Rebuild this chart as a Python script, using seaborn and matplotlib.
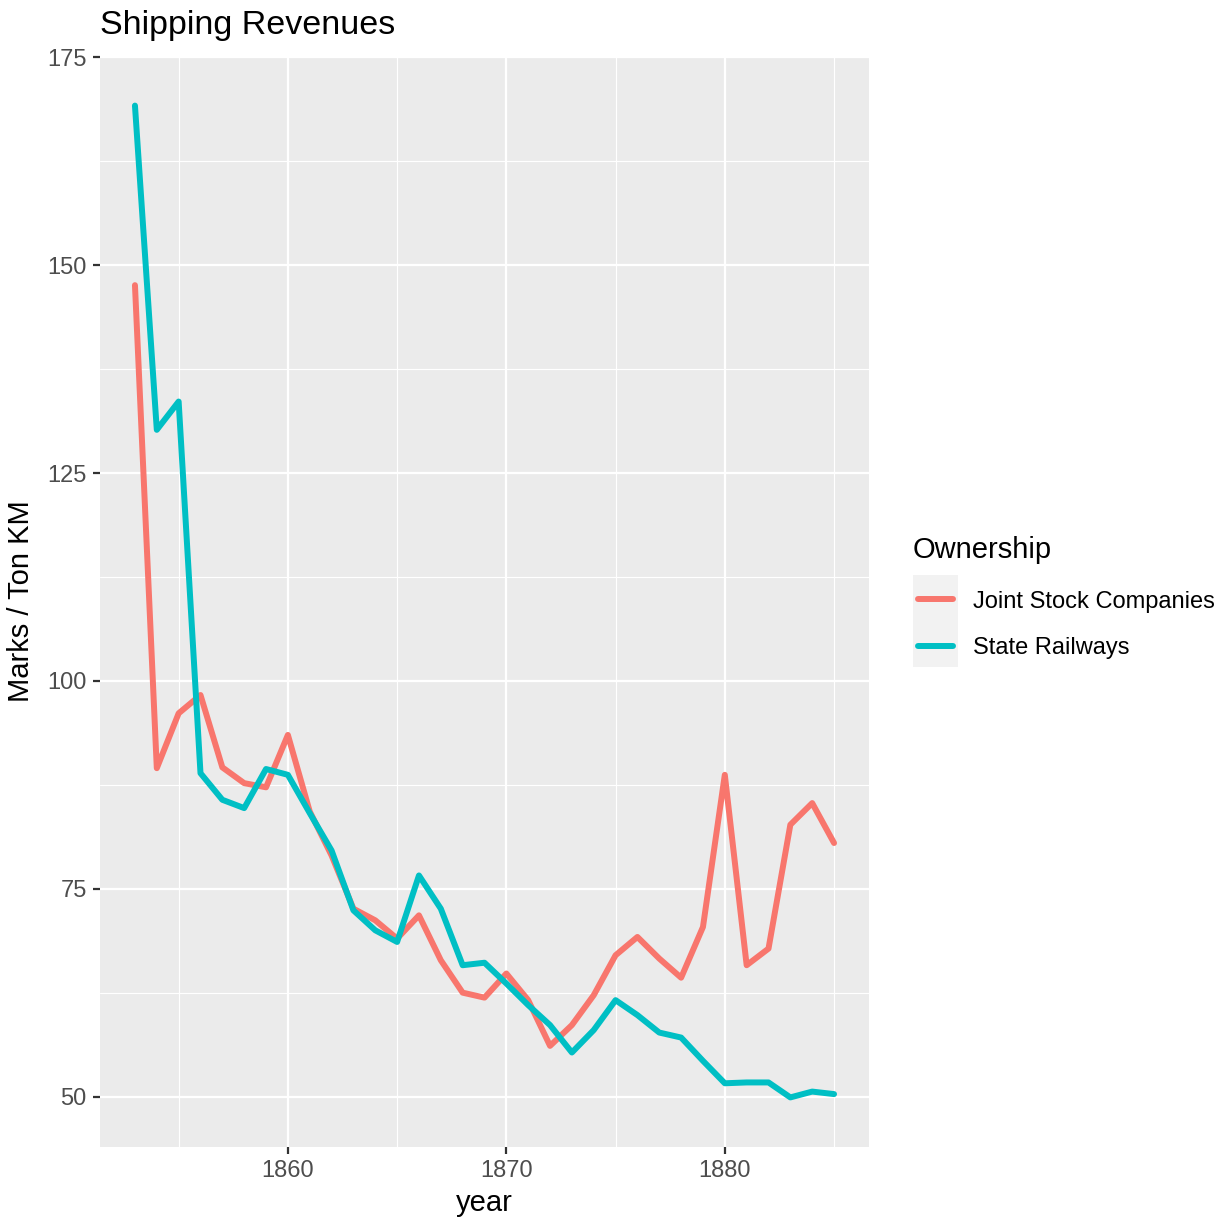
import matplotlib
matplotlib.use("Agg")
import matplotlib.pyplot as plt
import numpy as np
import pandas as pd
import seaborn as sns
from matplotlib.patches import Rectangle
from matplotlib.ticker import MultipleLocator

years = list(range(1853, 1886))

joint_stock = [147.6, 89.5, 96.1, 98.3, 89.6, 87.7, 87.2, 93.5, 84.3, 79.0,
               72.6, 71.2, 69.0, 71.8, 66.4, 62.5, 61.9, 64.8, 61.6, 56.1,
               58.6, 62.2, 67.0, 69.2, 66.6, 64.3, 70.4, 88.7, 65.8, 67.8,
               82.7, 85.3, 80.5]

state_railways = [169.2, 130.2, 133.6, 88.9, 85.7, 84.7, 89.4, 88.7, 84.1, 79.6,
                  72.4, 70.0, 68.6, 76.6, 72.6, 65.8, 66.1, 63.6, 61.0, 58.6,
                  55.3, 58.0, 61.6, 59.8, 57.7, 57.1, 54.3, 51.6, 51.7, 51.7,
                  49.9, 50.6, 50.3]

groups = ["Joint Stock Companies", "State Railways"]
colors = ["#F8766D", "#00BFC4"]

df = pd.DataFrame({
    "year": years * 2,
    "value": joint_stock + state_railways,
    "Ownership": [groups[0]] * len(years) + [groups[1]] * len(years),
})

sns.set_style("darkgrid")
plt.rcParams["font.family"] = ["Liberation Sans", "DejaVu Sans"]

fig = plt.figure(figsize=(12.31, 12.24), dpi=100)
W, H = 1231, 1224
ax = fig.add_axes([100 / W, 1 - 1147 / H, 769 / W, 1091 / H])
ax.set_facecolor("#EBEBEB")

sns.lineplot(data=df, x="year", y="value", hue="Ownership",
             palette=dict(zip(groups, colors)), linewidth=4.3, ax=ax)

ax.margins(x=0.05, y=0.05)
ax.xaxis.set_major_locator(MultipleLocator(10))
ax.xaxis.set_minor_locator(MultipleLocator(5))
ax.yaxis.set_major_locator(MultipleLocator(25))
ax.yaxis.set_minor_locator(MultipleLocator(12.5))
ax.grid(which="major", color="white", linewidth=1.6)
ax.grid(which="minor", color="white", linewidth=0.8)
ax.set_axisbelow(True)
for s in ax.spines.values():
    s.set_visible(False)

ax.tick_params(which="major", bottom=True, left=True, length=5, width=1.6,
               color="#333333", labelsize=17, labelcolor="#4D4D4D", pad=4.5)
ax.tick_params(which="minor", length=0)

ax.set_xlabel("year", fontsize=21, color="black", labelpad=5)
ax.set_ylabel("Marks / Ton KM", fontsize=21, color="black", labelpad=9)
ax.set_title("Shipping Revenues", loc="left", fontsize=24.5, color="black",
             pad=16)

# legend: keys + labels, title placed separately to match ggplot's offsets
sns.move_legend(ax, "center left", bbox_to_anchor=(918 / W, 1 - 625 / H),
                bbox_transform=fig.transFigure, frameon=False, title=None,
                fontsize=17, handlelength=1.48, handletextpad=0.85,
                labelspacing=1.05, borderpad=0, borderaxespad=0)
leg = ax.get_legend()
for line in leg.get_lines():
    line.set_linewidth(4.3)
for t in leg.get_texts():
    t.set_color("black")

fig.text(913 / W, 1 - 558 / H, "Ownership", fontsize=21, color="black",
         ha="left", va="baseline")

fig.add_artist(Rectangle((913 / W, 1 - 667 / H), 45 / W, 92 / H,
                         transform=fig.transFigure, facecolor="#F2F2F2",
                         edgecolor="none", zorder=-1))

fig.savefig("out.png", dpi=100, facecolor="white")
